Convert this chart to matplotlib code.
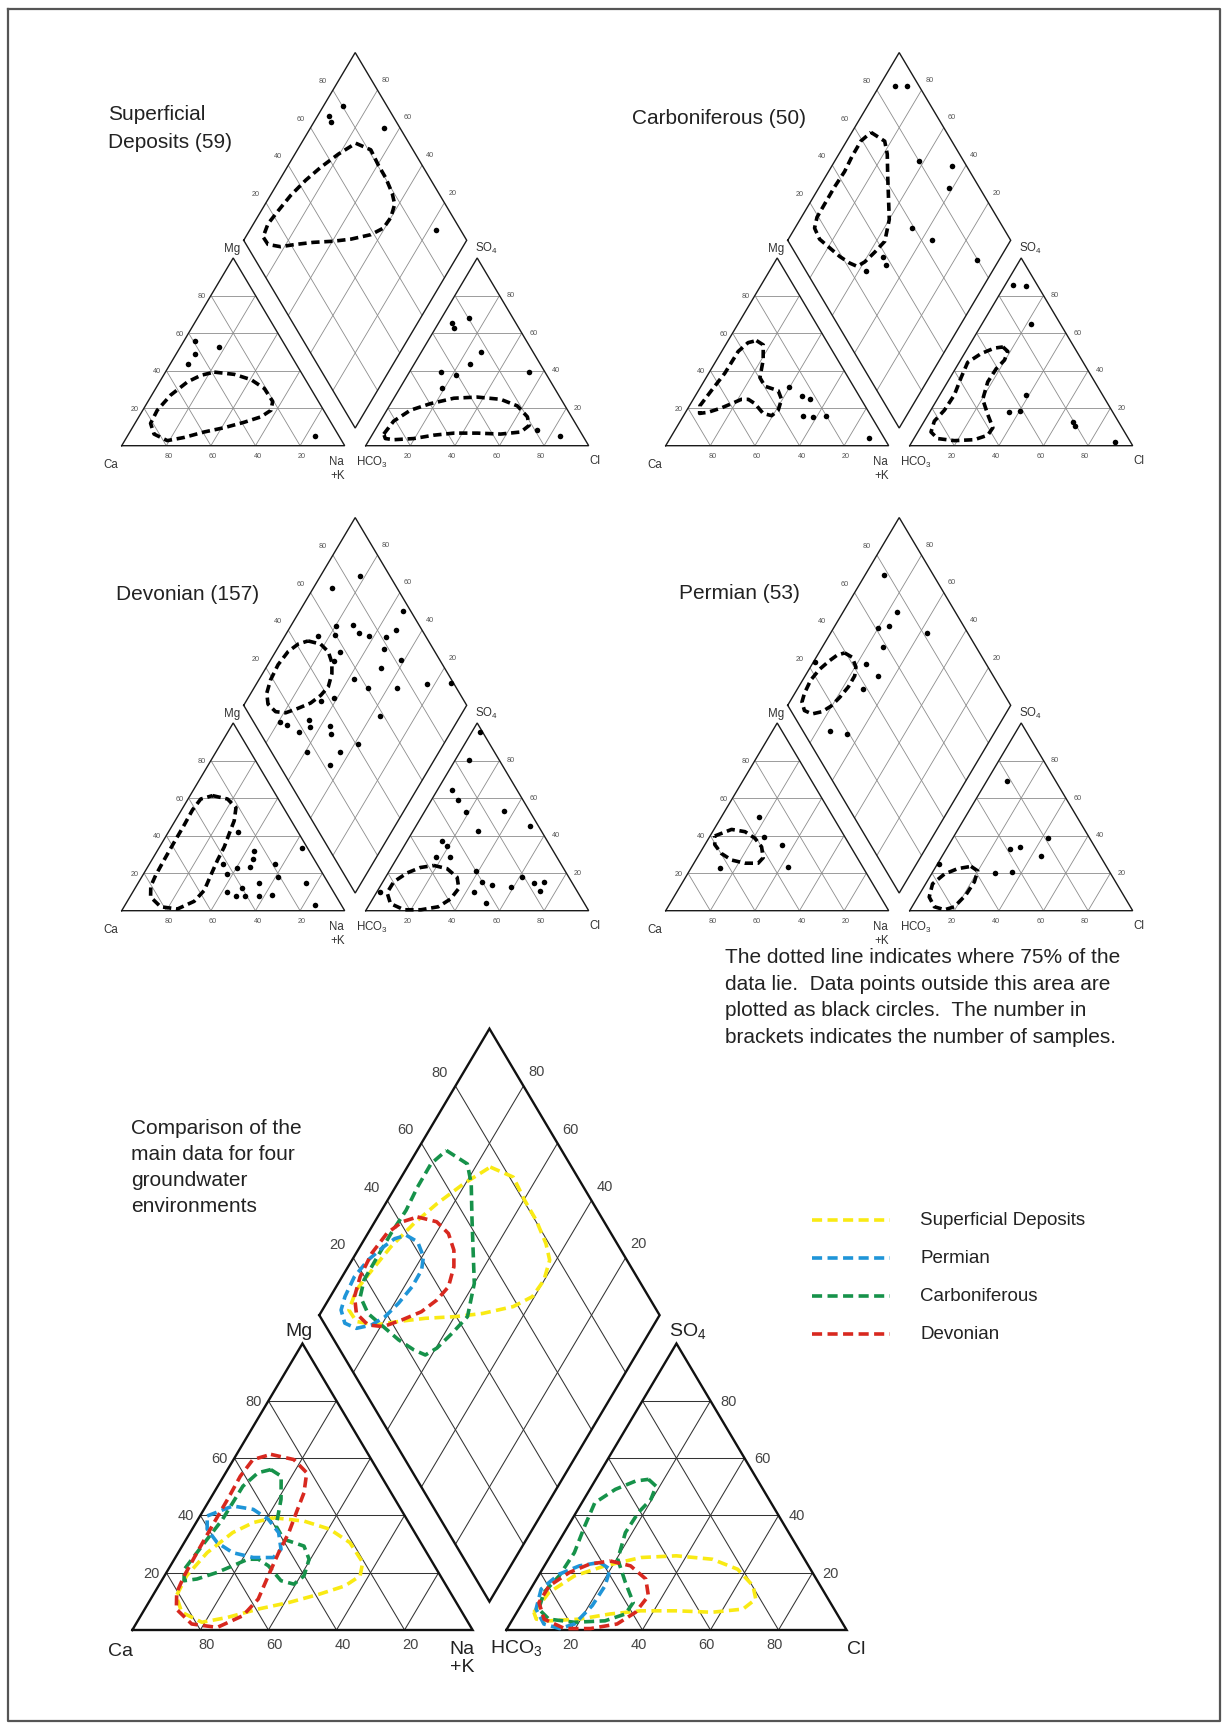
import matplotlib
matplotlib.use('Agg')
import matplotlib.pyplot as plt
import numpy as np

plt.rcParams['font.family'] = ['Liberation Sans', 'DejaVu Sans']
plt.rcParams['mathtext.fontset'] = 'custom'
plt.rcParams['mathtext.rm'] = 'Liberation Sans'
plt.rcParams['mathtext.it'] = 'Liberation Sans'
plt.rcParams['mathtext.bf'] = 'Liberation Sans:bold'

# ---------------- DATA (percentages) ----------------
TICKS = [20, 40, 60, 80]

# 75 % envelopes: cation (Na+K %, Mg %), anion (Cl %, SO4 %), diamond (Ca+Mg %, SO4+Cl %)
SUP_CAT = [(21.9,39.2),(31.5,38.0),(40.4,35.2),(48.7,30.5),(55.9,23.6),(57.5,18.9),(54.8,15.4),(48.7,12.5),
           (41.2,9.6),(33.3,7.3),(25.8,4.4),(19.1,2.7),(11.4,6.2),(7.0,11.9),(6.5,18.9),(8.5,27.0),(12.5,34.0),(16.8,37.5)]
SUP_AN = [(5.0,6.2),(6.0,13.1),(10.6,18.9),(17.8,22.4),(26.9,25.3),(37.0,25.9),(48.2,24.7),(57.4,21.2),(64.8,15.4),
          (67.9,10.8),(65.9,7.3),(57.4,6.2),(46.7,6.7),(36.2,6.7),(27.7,5.6),(19.6,3.8),(11.0,3.2),(6.9,3.8)]
SUP_DIA = [(75.6,76.1),(67.1,81.1),(59.7,80.4),(52.8,80.3),(45.9,79.1),(41.9,77.3),(40.1,72.1),(40.6,65.9),(44.5,58.5),
           (52.3,48.3),(59.6,39.9),(68.3,30.6),(75.6,22.2),(81.8,14.8),(88.0,9.8),(92.2,9.6),(93.5,15.3),(92.4,23.3),
           (90.9,33.0),(88.2,43.8),(84.9,54.0),(80.5,65.4)]

CARB_CAT = [(12.7,56.0),(16.9,53.7),(20.9,45.6),(24.1,36.3),(28.6,31.7),(35.8,29.3),(39.6,24.7),(41.0,18.9),(39.5,16.0),
            (35.1,17.2),(28.8,22.4),(24.7,24.7),(21.6,24.7),(18.3,22.4),(14.9,20.1),(10.1,17.8),(6.6,17.2),(4.7,21.2),
            (5.8,29.3),(7.2,38.6),(7.4,50.2),(9.5,54.9)]
CARB_AN = [(15.5,52.6),(18.9,50.2),(19.7,45.6),(18.3,41.0),(18.0,34.0),(20.4,24.7),(26.7,16.6),(32.5,9.6),(32.2,5.6),
           (27.4,3.2),(18.7,2.7),(10.6,3.8),(5.9,7.3),(4.5,13.1),(6.1,18.9),(6.5,27.0),(4.9,36.3),(3.8,44.4),(7.5,49.1),(12.0,52.0)]
CARB_DIA = [(91.4,66.1),(82.9,69.9),(78.3,67.6),(72.3,62.0),(66.1,56.5),(60.0,51.1),(56.2,43.3),(57.8,35.9),(59.7,28.8),
            (61.9,24.2),(66.2,21.7),(72.4,19.0),(79.2,16.8),(86.0,14.6),(91.2,15.3),(93.0,19.3),(93.1,26.1),(93.2,35.3),
            (92.8,43.8),(93.5,51.2),(93.6,59.3)]

DEV_CAT = [(10.1,61.3),(17.7,59.5),(23.8,54.9),(26.5,47.9),(27.7,41.0),(29.0,34.0),(29.5,27.0),(30.5,18.9),(31.6,10.8),
           (30.0,5.0),(24.5,0.9),(16.4,2.1),(9.3,7.3),(6.5,13.1),(5.8,18.9),(5.5,27.0),(5.3,36.3),(5.2,45.6),(4.9,53.7),(5.7,59.5)]
DEV_AN = [(18.5,24.1),(25.3,22.4),(32.1,17.8),(35.8,11.9),(34.9,6.2),(31.5,2.1),(24.5,0.5),(16.9,0.5),(9.2,3.8),
          (4.8,9.6),(4.9,15.4),(8.5,20.1),(13.0,23.0)]
DEV_DIA = [(88.3,46.0),(81.8,50.8),(76.3,52.2),(71.8,50.9),(68.9,48.0),(67.0,42.9),(68.1,37.2),(70.6,30.6),(74.8,23.6),
           (79.2,16.8),(84.0,12.6),(89.4,11.2),(92.9,13.6),(94.7,18.7),(95.4,26.2),(94.4,34.2),(91.9,40.7)]

PERM_CAT = [(2.1,39.8),(7.9,43.3),(14.5,42.1),(20.7,38.6),(26.0,34.0),(29.6,28.2),(28.8,25.3),(22.9,25.3),(16.0,27.0),
            (9.7,30.5),(4.4,35.2)]
PERM_AN = [(15.7,23.6),(19.9,21.2),(21.3,15.4),(21.0,8.5),(19.0,2.1),(15.4,0.5),(10.0,2.1),(5.1,7.3),(3.1,14.3),
           (5.8,19.5),(10.3,22.4)]
PERM_DIA = [(88.4,39.5),(83.9,41.7),(79.6,40.8),(77.8,37.9),(77.7,32.2),(78.8,25.4),(80.4,19.1),(82.9,13.7),(86.8,8.6),
            (91.1,6.1),(94.5,7.3),(95.7,10.8),(96.4,17.0),(95.3,23.9),(93.1,30.7),(91.2,35.5)]

# samples outside the envelopes
SUP_CAT_PTS = [(5,56),(8.6,48.8),(7.9,43.4),(17.5,52.4),(84,5)]
SUP_AN_PTS = [(6,65.5),(8.2,62.8),(12.5,67.9),(26.6,49.9),(25.1,43.4),(14.3,39),(21.7,37.7),(53.7,39),(18.8,30.6),
              (72.4,8.5),(84.6,5)]
SUP_DIA_PTS = [(91.3,80.1),(94.6,71.4),(92.4,70.4),(66.9,93.0),(16.6,89.1)]

CARB_CAT_PTS = [(39.9,31.1),(47.8,26.3),(52.3,24.9),(53.9,15.7),(58.6,15.1),(63.9,16),(89.4,3.9)]
CARB_AN_PTS = [(3.5,85.6),(9.5,84.9),(22,64.8),(38.7,27),(35.8,17.8),(40.3,18.3),(67,12.8),(68.8,10.7),(91,2.1)]
CARB_DIA_PTS = [(92.9,89.5),(87.8,94.6),(62.4,80),(46.3,93.4),(41.6,86.1),(47.5,59),(35.4,64.9),(9.9,79.6),
                (52.7,38.6),(49.6,37.4),(57,26.8)]

DEV_CAT_PTS = [(31.3,42.1),(64.1,33.2),(43.4,32),(45.1,27.5),(33.1,24.9),(40.4,22.7),(45.9,23.1),(56.2,24.9),
               (61.2,17.8),(75.5,14.6),(54.3,14.6),(37.6,19.6),(42,10.1),(47.4,8),(48,11.9),(51.3,8),(57.6,8),
               (63.2,8.4),(85,3)]
DEV_AN_PTS = [(3.6,95),(6.2,80.4),(6.5,64.3),(11.8,59),(18.5,52.7),(35.4,53.3),(50.9,45.3),(29.4,42.3),(15.4,37.3),
              (19.1,34.6),(17.4,28.4),(23.2,28.8),(39,21.3),(61,18.1),(72.3,15.1),(44.8,15.1),(49.6,13.7),(59,12.5),
              (68.1,14.6),(72.7,10.7),(43.5,9.8),(1.3,9.8),(52,4)]
DEV_DIA_PTS = [(82.5,86.6),(91.5,70.8),(53.5,96.6),(79.6,62.5),(72.3,70.4),(67.5,71),(62.4,74.7),(54.5,81.7),(51.8,88.5),
               (77.7,59.9),(84.9,51.8),(71.1,57.5),(71.3,52.4),(51.9,78.1),(41.4,82.7),(48.5,71.4),(57.6,56.5),(48.9,60.1),
               (36,73.1),(23.6,88),(13,98.7),(61.4,42.5),(66.5,36),(36.1,58),(79.4,11.9),(75.6,14.1),(66.8,25.6),
               (64.8,23.9),(68,17.9),(55.6,33.2),(53.4,31.3),(38.5,40.9),(59.2,15.8),(44.3,30.7),(45.4,23)]

PERM_CAT_PTS = [(16.9,50.1),(24.4,39.1),(34.4,35.2),(43,23.4),(12.8,22.7)]
PERM_AN_PTS = [(9,69.3),(42.9,38.6),(28.4,32.9),(32.5,34.1),(44.3,29.3),(28.2,20.1),(35.7,20.5),(0.6,24.9)]
PERM_DIA_PTS = [(91.6,77.8),(75.9,73.7),(80.1,61),(75.9,66.5),(56.7,81.7),(72.7,58.4),(75.9,46.1),(99.2,24),
                (67.4,48.3),(70.4,38.3),(74.4,12.1),(65.9,18.8)]

TITLES = ["Superficial\nDeposits (59)", "Carboniferous (50)", "Devonian (157)", "Permian (53)"]
BIG_TITLE = ["Comparison of the", "main data for four", "groundwater", "environments"]
NOTE = ["The dotted line indicates where 75% of the", "data lie.  Data points outside this area are",
        "plotted as black circles.  The number in", "brackets indicates the number of samples."]
LEGEND = ["Superficial Deposits", "Permian", "Carboniferous", "Devonian"]
COLORS = {"Superficial Deposits": "#f9ea14", "Permian": "#1f95d8", "Carboniferous": "#16924a", "Devonian": "#d8281f"}

# ---------------- LAYOUT ----------------
W, H = 1229, 1731
SY = 0.8418  # vertical scale of the (slightly squashed) equilateral geometry

fig = plt.figure(figsize=(W / 100, H / 100), dpi=100)
ax = fig.add_axes([0, 0, 1, 1])
ax.set_xlim(0, W)
ax.set_ylim(H, 0)
ax.axis('off')

SMALL = dict(L=223.0, g=21.0, outer_lw=1.0, outer_c='#1a1a1a', grid_lw=0.6, grid_c='#8c8c8c',
             tick_fs=5.2, tick_c='#555555', lab_fs=8.3, lab_c='#333333',
             off=dict(left=(-9, 0), cbot=(2, 10), abot=(-3, 10), aright=(11.5, -1), ul=(-10.3, -9.4), ur=(8.3, -10.7),
                      Ca=(-11, 18), Na=(-8, 15), K=(-7, 29), HCO3=(6, 16), Cl=(6, 14), Mg=(-1, -10), SO4=(9, -11)),
             env_lw=2.6, env_dash=(2.3, 1.3), dot_ms=4.0)
BIG = dict(L=340.3, g=33.7, outer_lw=1.7, outer_c='#111111', grid_lw=0.75, grid_c='#333333',
           tick_fs=10.5, tick_c='#444444', lab_fs=14, lab_c='#222222',
           off=dict(left=(-15, 0), cbot=(6, 14), abot=(-4, 14), aright=(18, 0), ul=(-16, -14), ur=(13, -14.5),
                    Ca=(-12, 21), Na=(-11, 19), K=(-10, 37), HCO3=(10, 17), Cl=(10, 19), Mg=(-3, -13), SO4=(11, -14)),
           env_lw=2.6, env_dash=(2.8, 1.5), dot_ms=4.0)

def cat_xy(d, pts):
    p = np.asarray(pts, float).reshape(-1, 2)
    nak, mg = p[:, 0], p[:, 1]
    return d['ox'] + (nak + mg / 2) / 100 * d['L'], d['base'] - mg / 100 * d['L'] * SY

def an_xy(d, pts):
    p = np.asarray(pts, float).reshape(-1, 2)
    cl, so4 = p[:, 0], p[:, 1]
    return d['ox'] + d['L'] + d['g'] + (cl + so4 / 2) / 100 * d['L'], d['base'] - so4 / 100 * d['L'] * SY

def dia_xy(d, pts):
    p = np.asarray(pts, float).reshape(-1, 2)
    n = 1 - p[:, 0] / 100
    s = p[:, 1] / 100
    x1 = d['ox'] + n * d['L']
    x2 = d['ox'] + d['L'] + d['g'] + s * d['L']
    return (x1 + x2) / 2, d['base'] - (x2 - x1) * SY

def draw_frame(d):
    st = d
    lines_grid = []
    for k in TICKS:
        lines_grid += [(cat_xy, [(0, k), (100 - k, k)]), (cat_xy, [(k, 0), (k, 100 - k)]),
                       (cat_xy, [(100 - k, 0), (0, 100 - k)]),
                       (an_xy, [(0, k), (100 - k, k)]), (an_xy, [(k, 0), (k, 100 - k)]),
                       (an_xy, [(100 - k, 0), (0, 100 - k)]),
                       (dia_xy, [(k, 0), (k, 100)]), (dia_xy, [(0, k), (100, k)])]
    for f, pts in lines_grid:
        x, y = f(d, pts)
        ax.plot(x, y, color=st['grid_c'], lw=st['grid_lw'], solid_capstyle='butt', zorder=1)
    for f, pts in [(cat_xy, [(0, 0), (100, 0), (0, 100), (0, 0)]), (an_xy, [(0, 0), (100, 0), (0, 100), (0, 0)]),
                   (dia_xy, [(100, 0), (100, 100), (0, 100), (0, 0), (100, 0)])]:
        x, y = f(d, pts)
        ax.plot(x, y, color=st['outer_c'], lw=st['outer_lw'], solid_joinstyle='miter', zorder=2)
    o = st['off']
    kw = dict(fontsize=st['tick_fs'], color=st['tick_c'], ha='center', va='center', zorder=3)
    for k in TICKS:
        for f, pt, key in [(cat_xy, (0, k), 'left'), (cat_xy, (100 - k, 0), 'cbot'), (an_xy, (k, 0), 'abot'),
                           (an_xy, (100 - k, k), 'aright'), (dia_xy, (100, k), 'ul'), (dia_xy, (k, 100), 'ur')]:
            x, y = f(d, [pt])
            ax.text(x[0] + o[key][0], y[0] + o[key][1], str(k), **kw)
    lk = dict(fontsize=st['lab_fs'], color=st['lab_c'], ha='center', va='center', zorder=3)
    for f, pt, key, txt in [(cat_xy, (0, 0), 'Ca', 'Ca'), (cat_xy, (100, 0), 'Na', 'Na'), (cat_xy, (100, 0), 'K', '+K'),
                            (an_xy, (0, 0), 'HCO3', 'HCO$_3$'), (an_xy, (100, 0), 'Cl', 'Cl'),
                            (cat_xy, (0, 100), 'Mg', 'Mg'), (an_xy, (0, 100), 'SO4', 'SO$_4$')]:
        x, y = f(d, [pt])
        ax.text(x[0] + o[key][0], y[0] + o[key][1], txt, **lk)

def draw_env(d, f, pts, color):
    p = list(pts) + [pts[0]]
    x, y = f(d, p)
    ax.plot(x, y, color=color, lw=d['env_lw'], ls=(0, d['env_dash']), dash_capstyle='butt', zorder=4)

def draw_pts(d, f, pts):
    x, y = f(d, pts)
    ax.plot(x, y, 'o', color='black', ms=d['dot_ms'], mew=0, zorder=5)

# four small diagrams
small_defs = [
    (121.7, 446.7, (SUP_CAT, SUP_AN, SUP_DIA), (SUP_CAT_PTS, SUP_AN_PTS, SUP_DIA_PTS)),
    (665.7, 446.7, (CARB_CAT, CARB_AN, CARB_DIA), (CARB_CAT_PTS, CARB_AN_PTS, CARB_DIA_PTS)),
    (121.7, 911.7, (DEV_CAT, DEV_AN, DEV_DIA), (DEV_CAT_PTS, DEV_AN_PTS, DEV_DIA_PTS)),
    (665.7, 911.7, (PERM_CAT, PERM_AN, PERM_DIA), (PERM_CAT_PTS, PERM_AN_PTS, PERM_DIA_PTS)),
]
for ox, base, envs, pts in small_defs:
    d = dict(SMALL, ox=ox, base=base)
    draw_frame(d)
    for f, e in zip((cat_xy, an_xy, dia_xy), envs):
        draw_env(d, f, e, 'black')
    for f, p in zip((cat_xy, an_xy, dia_xy), pts):
        draw_pts(d, f, p)

title_pos = [(108.5, 115), (632.5, 118), (116, 595), (679, 593.5)]
for (tx, ty), t in zip(title_pos, TITLES):
    for i, ln in enumerate(t.split('\n')):
        ax.text(tx, ty + i * 27, ln, fontsize=15, color='#222222', ha='left', va='center')

# big comparison diagram
D = dict(BIG, ox=132.3, base=1631.0)
draw_frame(D)
for name, envs in [("Superficial Deposits", (SUP_CAT, SUP_AN, SUP_DIA)), ("Carboniferous", (CARB_CAT, CARB_AN, CARB_DIA)),
                   ("Permian", (PERM_CAT, PERM_AN, PERM_DIA)), ("Devonian", (DEV_CAT, DEV_AN, DEV_DIA))]:
    for f, e in zip((cat_xy, an_xy, dia_xy), envs):
        draw_env(D, f, e, COLORS[name])

for i, ln in enumerate(BIG_TITLE):
    ax.text(131, 1129 + i * 26, ln, fontsize=15, color='#222222', ha='left', va='center')
for i, ln in enumerate(NOTE):
    ax.text(725, 958 + i * 26.5, ln, fontsize=15, color='#222222', ha='left', va='center')

leg_y = [1221, 1259, 1297, 1335]
for y, name in zip(leg_y, LEGEND):
    ax.plot([812, 890], [y, y], color=COLORS[name], lw=2.6, ls=(0, (2.8, 1.5)), dash_capstyle='butt')
    ax.text(920, y, name, fontsize=13.5, color='#222222', ha='left', va='center')

# outer frame
ax.plot([8, 1220, 1220, 8, 8], [10, 10, 1722, 1722, 10], color='#555555', lw=1.6)

fig.savefig('out.png', dpi=100)
